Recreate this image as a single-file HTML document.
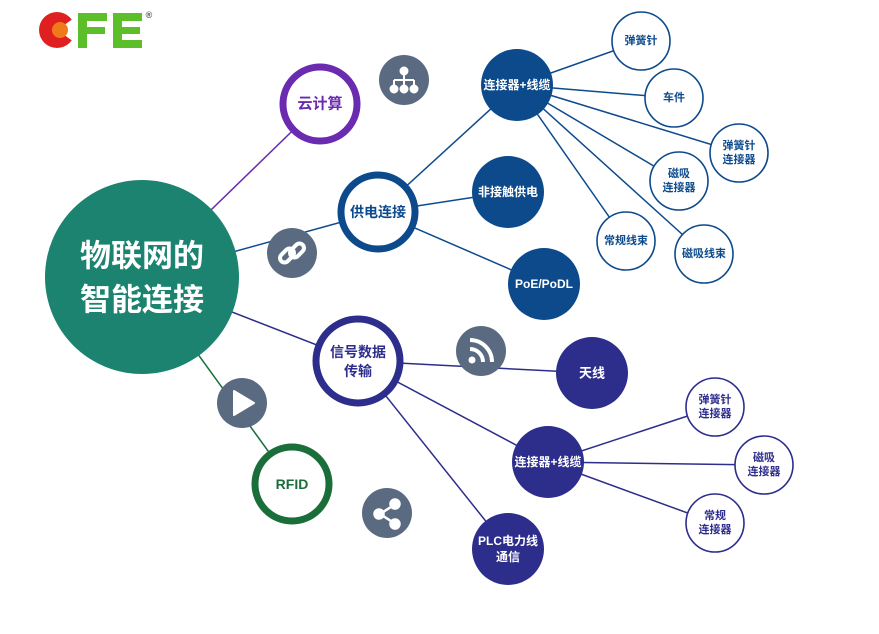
<!DOCTYPE html>
<html><head><meta charset="utf-8"><style>
html,body{margin:0;padding:0;background:#fff;}
svg text{font-family:"Liberation Sans","Noto Sans CJK SC",sans-serif;font-weight:bold;text-anchor:middle;dominant-baseline:central;}
</style></head><body>
<svg width="879" height="629" viewBox="0 0 879 629" xmlns="http://www.w3.org/2000/svg">
<!-- logo -->
<circle cx="57" cy="30" r="18" fill="#e02020"/>
<path d="M57 30 L80 14 L80 46 Z" fill="#fff"/>
<circle cx="60" cy="30" r="8" fill="#f07a1a"/>
<rect x="78" y="13" width="29" height="8" fill="#5cbf2a"/>
<rect x="78" y="13" width="9" height="35" fill="#5cbf2a"/>
<rect x="78" y="27" width="27" height="7" fill="#5cbf2a"/>
<rect x="113" y="13" width="29" height="8" fill="#5cbf2a"/>
<rect x="113" y="13" width="9" height="35" fill="#5cbf2a"/>
<rect x="113" y="27" width="27" height="7" fill="#5cbf2a"/>
<rect x="113" y="40" width="29" height="8" fill="#5cbf2a"/>
<text x="149" y="15" font-size="9" font-weight="normal" fill="#555">®</text>

<!-- lines -->
<g stroke-width="1.5" fill="none">
<line x1="142" y1="277" x2="320" y2="104" stroke="#6a2bb0"/>
<line x1="142" y1="277" x2="378" y2="212" stroke="#0d4a8c"/>
<line x1="142" y1="277" x2="358" y2="361" stroke="#2d2d8c"/>
<line x1="142" y1="277" x2="292" y2="484" stroke="#1a6e3a"/>
<g stroke="#0d4a8c">
<line x1="378" y1="212" x2="517" y2="85"/>
<line x1="378" y1="212" x2="508" y2="192"/>
<line x1="378" y1="212" x2="544" y2="284"/>
<line x1="517" y1="85" x2="641" y2="41"/>
<line x1="517" y1="85" x2="674" y2="98"/>
<line x1="517" y1="85" x2="739" y2="153"/>
<line x1="517" y1="85" x2="679" y2="181"/>
<line x1="517" y1="85" x2="626" y2="241"/>
<line x1="517" y1="85" x2="704" y2="254"/>
</g>
<g stroke="#2d2d8c">
<line x1="358" y1="361" x2="592" y2="373"/>
<line x1="358" y1="361" x2="548" y2="462"/>
<line x1="358" y1="361" x2="508" y2="549"/>
<line x1="548" y1="462" x2="715" y2="407"/>
<line x1="548" y1="462" x2="764" y2="465"/>
<line x1="548" y1="462" x2="715" y2="523"/>
</g>
</g>

<!-- main -->
<circle cx="142" cy="277" r="97" fill="#1b836f"/>
<text x="142" y="256" font-size="31" fill="#fff">物联网的</text>
<text x="142" y="300" font-size="31" fill="#fff">智能连接</text>

<!-- ring nodes -->
<circle cx="320" cy="104" r="37" fill="#fff" stroke="#6a2bb0" stroke-width="7"/>
<text x="320" y="104" font-size="15" fill="#6a2bb0">云计算</text>
<circle cx="378" cy="212" r="37" fill="#fff" stroke="#0d4a8c" stroke-width="7"/>
<text x="378" y="212" font-size="14" fill="#0d4a8c">供电连接</text>
<circle cx="358" cy="361" r="42" fill="#fff" stroke="#2d2d8c" stroke-width="7"/>
<text x="358" y="352" font-size="14" fill="#2d2d8c">信号数据</text>
<text x="358" y="371" font-size="14" fill="#2d2d8c">传输</text>
<circle cx="292" cy="484" r="37" fill="#fff" stroke="#1a6e3a" stroke-width="7"/>
<text x="292" y="484" font-size="14" fill="#1a6e3a">RFID</text>

<!-- filled nodes -->
<g font-size="12">
<circle cx="517" cy="85" r="36" fill="#0d4a8c"/>
<text x="517" y="85" fill="#fff" font-size="12">连接器+线缆</text>
<circle cx="508" cy="192" r="36" fill="#0d4a8c"/>
<text x="508" y="192" fill="#fff" font-size="12">非接触供电</text>
<circle cx="544" cy="284" r="36" fill="#0d4a8c"/>
<text x="544" y="284" fill="#fff" font-size="12">PoE/PoDL</text>
<circle cx="592" cy="373" r="36" fill="#2d2d8c"/>
<text x="592" y="373" fill="#fff" font-size="13">天线</text>
<circle cx="548" cy="462" r="36" fill="#2d2d8c"/>
<text x="548" y="462" fill="#fff" font-size="12">连接器+线缆</text>
<circle cx="508" cy="549" r="36" fill="#2d2d8c"/>
<text x="508" y="541" fill="#fff" font-size="12">PLC电力线</text>
<text x="508" y="557" fill="#fff" font-size="12">通信</text>
</g>

<!-- small outline nodes -->
<g fill="#fff" stroke-width="1.6">
<circle cx="641" cy="41" r="29" stroke="#0d4a8c"/>
<circle cx="674" cy="98" r="29" stroke="#0d4a8c"/>
<circle cx="739" cy="153" r="29" stroke="#0d4a8c"/>
<circle cx="679" cy="181" r="29" stroke="#0d4a8c"/>
<circle cx="626" cy="241" r="29" stroke="#0d4a8c"/>
<circle cx="704" cy="254" r="29" stroke="#0d4a8c"/>
<circle cx="715" cy="407" r="29" stroke="#2d2d8c"/>
<circle cx="764" cy="465" r="29" stroke="#2d2d8c"/>
<circle cx="715" cy="523" r="29" stroke="#2d2d8c"/>
</g>
<g font-size="11" fill="#0d4a8c">
<text x="641" y="41">弹簧针</text>
<text x="674" y="98">车件</text>
<text x="739" y="146">弹簧针</text>
<text x="739" y="160">连接器</text>
<text x="679" y="174">磁吸</text>
<text x="679" y="188">连接器</text>
<text x="626" y="241">常规线束</text>
<text x="704" y="254">磁吸线束</text>
</g>
<g font-size="11" fill="#2d2d8c">
<text x="715" y="400">弹簧针</text>
<text x="715" y="414">连接器</text>
<text x="764" y="458">磁吸</text>
<text x="764" y="472">连接器</text>
<text x="715" y="516">常规</text>
<text x="715" y="530">连接器</text>
</g>

<!-- icons -->
<g fill="#5a6a80">
<circle cx="404" cy="80" r="25"/>
<circle cx="292" cy="253" r="25"/>
<circle cx="481" cy="351" r="25"/>
<circle cx="242" cy="403" r="25"/>
<circle cx="387" cy="513" r="25"/>
</g>
<!-- network -->
<g stroke="#fff" stroke-width="2" fill="#fff">
<circle cx="404" cy="71" r="3.5"/>
<line x1="404" y1="71" x2="404" y2="80"/>
<line x1="394" y1="80" x2="414" y2="80" fill="none"/>
<line x1="394" y1="80" x2="394" y2="88"/><line x1="404" y1="80" x2="404" y2="88"/><line x1="414" y1="80" x2="414" y2="88"/>
<circle cx="394" cy="89" r="3.5"/><circle cx="404" cy="89" r="3.5"/><circle cx="414" cy="89" r="3.5"/>
</g>
<!-- link -->
<g stroke="#fff" stroke-width="4" fill="none">
<rect x="279" y="251" width="16" height="9" rx="4.5" transform="rotate(-45 287 255.5)"/>
<rect x="289" y="246" width="16" height="9" rx="4.5" transform="rotate(-45 297 250.5)"/>
</g>
<!-- rss -->
<g fill="none" stroke="#fff" stroke-width="4">
<circle cx="472" cy="360" r="3.5" fill="#fff" stroke="none"/>
<path d="M470 349 A13 13 0 0 1 483 362"/>
<path d="M470 340 A22 22 0 0 1 492 362"/>
</g>
<!-- play -->
<path d="M234 391 L254 403 L234 415 Z" fill="#fff" stroke="#fff" stroke-width="2" stroke-linejoin="round"/>
<!-- share -->
<g fill="#fff" stroke="#fff" stroke-width="2.5">
<line x1="380" y1="514" x2="394" y2="505"/><line x1="380" y1="514" x2="394" y2="523"/>
<circle cx="379" cy="514" r="4.5"/><circle cx="395" cy="504" r="4.5"/><circle cx="395" cy="524" r="4.5"/>
</g>
</svg>
</body></html>
